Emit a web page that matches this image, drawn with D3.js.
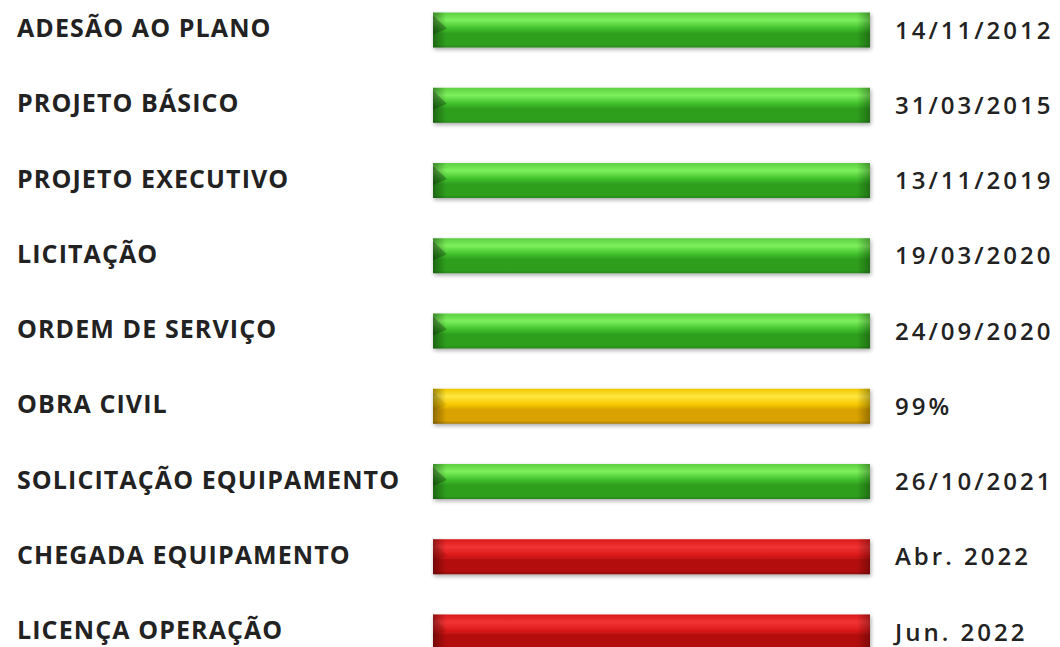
<!DOCTYPE html>
<html>
<head>
<meta charset="utf-8">
<script src="https://cdn.jsdelivr.net/npm/d3@7"></script>
<style>
  html, body { margin: 0; padding: 0; background: #fff; }
  svg { display: block; }
</style>
</head>
<body>
<div id="chart"></div>
<script>
// etapas do cronograma
const etapas = ['ADESÃO AO PLANO', 'PROJETO BÁSICO', 'PROJETO EXECUTIVO', 'LICITAÇÃO',
  'ORDEM DE SERVIÇO', 'OBRA CIVIL', 'SOLICITAÇÃO EQUIPAMENTO', 'CHEGADA EQUIPAMENTO', 'LICENÇA OPERAÇÃO']
const situacao = ['concluido', 'concluido', 'concluido', 'concluido', 'concluido',
  'andamento', 'concluido', 'pendente', 'pendente']
const progresso = [100, 100, 100, 100, 100, 100, 100, 100, 100]
const rotulos = ['14/11/2012', '31/03/2015', '13/11/2019', '19/03/2020', '24/09/2020',
  '99%', '26/10/2021', 'Abr. 2022', 'Jun. 2022']

const WIDTH = 1060
const HEIGHT = 647
const barHeight = 35

const cores = {
  concluido: { top: '#5ccf40', light: '#7cf05c', mid: '#41c12c', dark: '#2f9f1f', edge: '#27861a' },
  andamento: { top: '#f0c800', light: '#ffe640', mid: '#f7c800', dark: '#d9a200', edge: '#a87800' },
  pendente: { top: '#d81a1a', light: '#f23434', mid: '#dc1a1a', dark: '#b40e0e', edge: '#8a0808' }
}

const x = d3.scaleLinear().domain([0, 100]).range([433, 870])
const y = d3.scalePoint().domain(etapas).range([29, 631])

const svg = d3.select('#chart')
  .append('svg')
  .attr('width', WIDTH)
  .attr('height', HEIGHT)

const defs = svg.append('defs')

// gradientes verticais (efeito cilindro)
Object.keys(cores).forEach(function (k) {
  const c = cores[k]
  const g = defs.append('linearGradient')
    .attr('id', 'grad-' + k)
    .attr('x1', 0).attr('y1', 0).attr('x2', 0).attr('y2', 1)
  g.append('stop').attr('offset', '0%').attr('stop-color', c.top)
  g.append('stop').attr('offset', '22%').attr('stop-color', c.light)
  g.append('stop').attr('offset', '45%').attr('stop-color', c.mid)
  g.append('stop').attr('offset', '60%').attr('stop-color', c.dark)
  g.append('stop').attr('offset', '92%').attr('stop-color', c.dark)
  g.append('stop').attr('offset', '100%').attr('stop-color', c.edge)
})

// escurecimento nas pontas
const ends = defs.append('linearGradient')
  .attr('id', 'ends')
  .attr('x1', 0).attr('y1', 0).attr('x2', 1).attr('y2', 0)
ends.append('stop').attr('offset', '0%').attr('stop-color', '#000').attr('stop-opacity', 0.35)
ends.append('stop').attr('offset', '3%').attr('stop-color', '#000').attr('stop-opacity', 0)
ends.append('stop').attr('offset', '97%').attr('stop-color', '#000').attr('stop-opacity', 0)
ends.append('stop').attr('offset', '100%').attr('stop-color', '#000').attr('stop-opacity', 0.3)

const shadow = defs.append('filter')
  .attr('id', 'sombra')
  .attr('x', '-5%').attr('y', '-40%').attr('width', '110%').attr('height', '180%')
shadow.append('feGaussianBlur').attr('in', 'SourceAlpha').attr('stdDeviation', 2)
shadow.append('feOffset').attr('dx', 1).attr('dy', 2).attr('result', 'b')
shadow.append('feComponentTransfer').append('feFuncA').attr('type', 'linear').attr('slope', 0.35)
const merge = shadow.append('feMerge')
merge.append('feMergeNode')
merge.append('feMergeNode').attr('in', 'SourceGraphic')

const linhas = svg.selectAll('g.linha')
  .data(etapas)
  .enter()
  .append('g')
  .attr('class', 'linha')

linhas.append('rect')
  .attr('x', x(0))
  .attr('y', function (d) { return y(d) - barHeight / 2 + 1 })
  .attr('width', function (d, i) { return x(progresso[i]) - x(0) })
  .attr('height', barHeight)
  .attr('fill', function (d, i) { return 'url(#grad-' + situacao[i] + ')' })
  .attr('filter', 'url(#sombra)')

linhas.append('rect')
  .attr('x', x(0))
  .attr('y', function (d) { return y(d) - barHeight / 2 + 1 })
  .attr('width', function (d, i) { return x(progresso[i]) - x(0) })
  .attr('height', barHeight)
  .attr('fill', 'url(#ends)')

// bisel na ponta esquerda
linhas.append('path')
  .attr('d', function (d) {
    const y0 = y(d) - barHeight / 2 + 1
    const x0 = x(0)
    return 'M' + x0 + ',' + (y0 + 3) + 'L' + (x0 + 14) + ',' + (y0 + 16) + 'L' + x0 + ',' + (y0 + 22) + 'Z'
  })
  .attr('fill', '#000')
  .attr('fill-opacity', function (d, i) { return situacao[i] === 'concluido' ? 0.25 : 0.08 })

linhas.append('text')
  .attr('x', 17)
  .attr('y', function (d) { return y(d) - 1 })
  .attr('dy', '0.36em')
  .attr('fill', '#222')
  .style('font-family', '"Open Sans", sans-serif')
  .style('font-weight', 700)
  .style('font-size', '25px')
  .style('letter-spacing', '1.1px')
  .text(function (d) { return d })

linhas.append('text')
  .attr('x', 895)
  .attr('y', function (d) { return y(d) + 1 })
  .attr('dy', '0.36em')
  .attr('fill', '#222')
  .style('font-family', '"Open Sans", sans-serif')
  .style('font-weight', 600)
  .style('font-size', '24px')
  .style('letter-spacing', '3px')
  .text(function (d, i) { return rotulos[i] })
</script>
</body>
</html>
